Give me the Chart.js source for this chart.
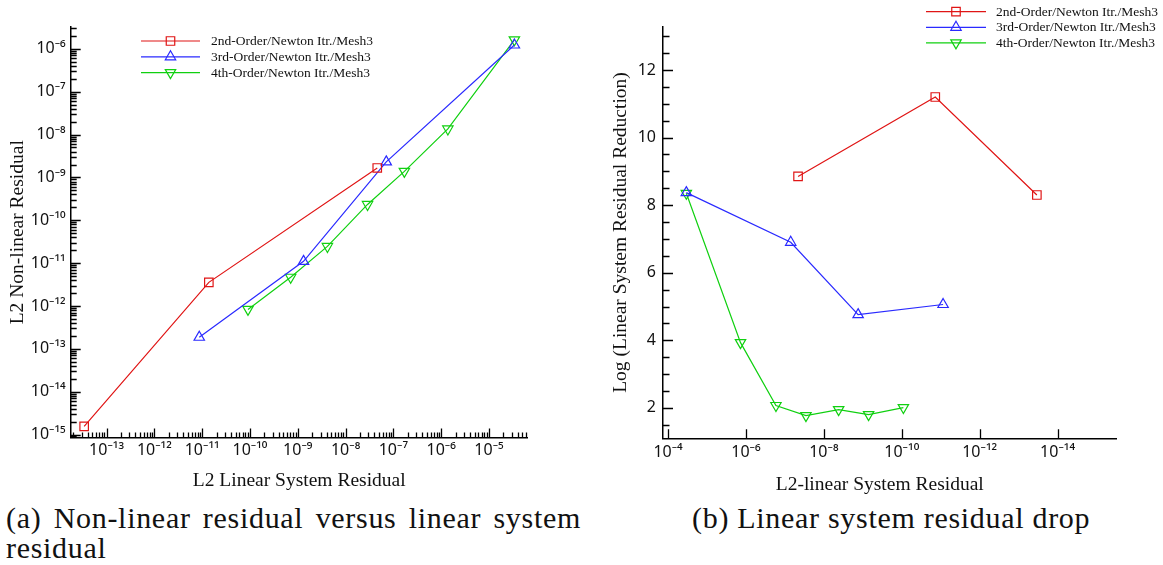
<!DOCTYPE html>
<html>
<head>
<meta charset="utf-8">
<script src="https://cdn.jsdelivr.net/npm/chart.js@4.4.1/dist/chart.umd.min.js"></script>
<style>
  html, body { margin: 0; padding: 0; background: #fff; }
  body { width: 1163px; height: 565px; position: relative; overflow: hidden; }
  #panelA { position: absolute; left: 0; top: 0; width: 580px; height: 500px; }
  #panelB { position: absolute; left: 600px; top: 0; width: 563px; height: 500px; }
  .caption {
    position: absolute;
    font-family: "Liberation Serif", "DejaVu Serif", serif;
    font-size: 30px;
    letter-spacing: 0.7px;
    line-height: 30px;
    color: #111;
  }
  #captionA { left: 6px; top: 503px; width: 575px; text-align: justify; }
  #captionB { left: 692px; top: 503px; }
</style>
</head>
<body>
<div id="panelA"><canvas id="chartA" width="580" height="500"></canvas></div>
<div id="panelB"><canvas id="chartB" width="563" height="500"></canvas></div>
<div class="caption" id="captionA">(a) Non-linear residual versus linear system residual</div>
<div class="caption" id="captionB">(b) Linear system residual drop</div>

<script>
// Series labels
const seriesNames = [
  '2nd-Order/Newton Itr./Mesh3',
  '3rd-Order/Newton Itr./Mesh3',
  '4th-Order/Newton Itr./Mesh3'
];

// L2 linear-system residual reached at each Newton iteration
const linRes2nd = [4.6e-8, 1.38e-11, 3.4e-14];
const linRes3rd = [3.4e-5, 7.1e-8, 1.32e-9, 8.7e-12];
const linRes4th = [3.4e-5, 1.38e-6, 1.7e-7, 2.88e-8, 4.17e-9, 7.1e-10, 9.1e-11];

// L2 non-linear residual at the same iterations
const nonlinRes2nd = [1.66e-9, 3.55e-12, 1.55e-15];
const nonlinRes3rd = [1.23e-6, 2.3e-9, 1.1e-11, 1.86e-13];
const nonlinRes4th = [1.62e-6, 1.35e-8, 1.38e-9, 2.34e-10, 2.45e-11, 4.68e-12, 8.3e-13];

// log10 of the linear-system residual reduction at the same iterations
const reduction2nd = [8.85, 11.2, 8.3];
const reduction3rd = [8.37, 6.9, 4.76, 5.06];
const reduction4th = [8.35, 3.93, 2.07, 1.77, 1.95, 1.8, 2.01];

// Labelled ticks
const linTicksA = [1e-13, 1e-12, 1e-11, 1e-10, 1e-9, 1e-8, 1e-7, 1e-6, 1e-5];
const nonlinTicks = [1e-15, 1e-14, 1e-13, 1e-12, 1e-11, 1e-10, 1e-9, 1e-8, 1e-7, 1e-6];
const linTicksB = [1e-4, 1e-6, 1e-8, 1e-10, 1e-12, 1e-14];
const reductionTicks = [2, 4, 6, 8, 10, 12];

// Axis extents
const linRangeA = [Math.pow(10, -13.75), Math.pow(10, -4.19)];
const nonlinRange = [Math.pow(10, -15.07), Math.pow(10, -5.49)];
const linRangeB = [Math.pow(10, -15.5), Math.pow(10, -3.87)];
const reductionRange = [1.1, 13.28];

const RED = '#e01515';
const BLUE = '#2a2aff';
const GREEN = '#10d010';

const SUP = { '-': '\u207B', '0': '\u2070', '1': '\u00B9', '2': '\u00B2', '3': '\u00B3',
  '4': '\u2074', '5': '\u2075', '6': '\u2076', '7': '\u2077', '8': '\u2078', '9': '\u2079' };
function decadeLabel(v) {
  const e = Math.round(Math.log10(v));
  return '10' + String(e).split('').map(c => SUP[c]).join('');
}

// Decade (long) and sub-decade (short) tick marks for a log axis
function logMarks(range) {
  const out = [];
  const lo = Math.floor(Math.log10(range[0]));
  const hi = Math.ceil(Math.log10(range[1]));
  for (let e = lo; e <= hi; e++) {
    for (let m = 1; m <= 9; m++) {
      const v = m * Math.pow(10, e);
      if (v >= range[0] && v <= range[1]) out.push({ v, major: m === 1 });
    }
  }
  return out;
}

// Inward-pointing tick marks drawn along each axis line
const axisMarks = {
  id: 'axisMarks',
  afterDraw(chart, _args, opts) {
    const { ctx } = chart;
    ctx.save();
    ctx.strokeStyle = '#000';
    ctx.lineWidth = 1.3;
    ctx.beginPath();
    (opts.axes || []).forEach(ax => {
      const s = chart.scales[ax.id];
      ax.marks.forEach(mk => {
        const p = Math.round(s.getPixelForValue(mk.v)) + 0.5;
        const len = mk.major ? ax.major : ax.minor;
        if (s.isHorizontal()) {
          if (p < s.left - 1 || p > s.right + 1) return;
          ctx.moveTo(p, s.top);
          ctx.lineTo(p, s.top - len);
        } else {
          if (p < s.top - 1 || p > s.bottom + 1) return;
          ctx.moveTo(s.right, p);
          ctx.lineTo(s.right + len, p);
        }
      });
    });
    ctx.stroke();
    ctx.restore();
  }
};

// Legend rows (line sample + marker + label) placed inside the plot
const inlineLegend = {
  id: 'inlineLegend',
  afterDraw(chart, _args, opts) {
    const { ctx } = chart;
    ctx.save();
    chart.data.datasets.forEach((ds, i) => {
      const y = opts.top + i * opts.rowGap;
      ctx.strokeStyle = ds.borderColor;
      ctx.lineWidth = ds.borderWidth;
      ctx.beginPath();
      ctx.moveTo(opts.lineStart, y);
      ctx.lineTo(opts.lineEnd, y);
      ctx.stroke();
      ctx.fillStyle = 'rgba(0,0,0,0)';
      ctx.lineWidth = ds.pointBorderWidth;
      Chart.helpers.drawPoint(ctx, {
        pointStyle: ds.pointStyle,
        rotation: ds.pointRotation || 0,
        radius: opts.markerRadius,
        borderWidth: ds.pointBorderWidth
      }, (opts.lineStart + opts.lineEnd) / 2, y);
      ctx.font = opts.font;
      ctx.textBaseline = 'middle';
      ctx.textAlign = 'left';
      ctx.fillStyle = '#111';
      ctx.fillText(ds.label, opts.textX, y + 0.5);
    });
    ctx.restore();
  }
};

function series(label, xs, ys, color, style, rotation) {
  return {
    label,
    data: xs.map((x, i) => ({ x, y: ys[i] })),
    showLine: true,
    borderColor: color,
    borderWidth: 1.2,
    pointStyle: style,
    pointRotation: rotation,
    pointRadius: 6,
    pointBorderWidth: 1.2,
    pointBorderColor: color,
    pointBackgroundColor: 'rgba(0,0,0,0)'
  };
}

const tickFont = { family: '"Noto Sans", "DejaVu Sans", sans-serif', size: 16 };
const titleFont = { family: '"Liberation Serif", "Times New Roman", serif', size: 19.5 };
const noGrid = { display: false, drawTicks: false, drawOnChartArea: false };
const axisBorder = { display: true, color: '#000', width: 1.5 };

function fixedTicks(values) {
  return scale => { scale.ticks = values.map(v => ({ value: v })); };
}

// (a) non-linear residual versus linear-system residual
new Chart(document.getElementById('chartA'), {
  type: 'scatter',
  data: {
    datasets: [
      series(seriesNames[0], linRes2nd, nonlinRes2nd, RED, 'rect', 0),
      series(seriesNames[1], linRes3rd, nonlinRes3rd, BLUE, 'triangle', 0),
      series(seriesNames[2], linRes4th, nonlinRes4th, GREEN, 'triangle', 180)
    ]
  },
  options: {
    responsive: false,
    animation: false,
    layout: { padding: { top: 27, right: 52.3, bottom: 2.5, left: 0 } },
    plugins: {
      legend: { display: false },
      tooltip: { enabled: false },
      axisMarks: {
        axes: [
          { id: 'x', marks: logMarks(linRangeA), major: 9, minor: 5 },
          { id: 'y', marks: logMarks(nonlinRange), major: 10, minor: 6 }
        ]
      },
      inlineLegend: {
        top: 41, rowGap: 15.8, lineStart: 141, lineEnd: 200, textX: 211,
        markerRadius: 6, font: '13.5px "Liberation Serif", serif'
      }
    },
    scales: {
      x: {
        type: 'logarithmic',
        min: linRangeA[0], max: linRangeA[1],
        afterBuildTicks: fixedTicks(linTicksA),
        afterFit: s => { s.height = 60; },
        grid: noGrid, border: axisBorder,
        ticks: { callback: v => decadeLabel(v), autoSkip: false, maxRotation: 0, minRotation: 0,
                 padding: 3, color: '#111', font: tickFont },
        title: { display: true, text: 'L2 Linear System Residual', color: '#111', font: titleFont,
                 padding: { top: 0, bottom: 4.8 } }
      },
      y: {
        type: 'logarithmic',
        min: nonlinRange[0], max: nonlinRange[1],
        afterBuildTicks: fixedTicks(nonlinTicks),
        afterFit: s => { s.width = 70.7; },
        grid: noGrid, border: axisBorder,
        ticks: { callback: v => decadeLabel(v), autoSkip: false, padding: 5, color: '#111', font: tickFont },
        title: { display: true, text: 'L2 Non-linear Residual', color: '#111', font: titleFont,
                 padding: { top: 6.3, bottom: 0 } }
      }
    }
  },
  plugins: [axisMarks, inlineLegend]
});

// (b) linear-system residual drop per Newton iteration
new Chart(document.getElementById('chartB'), {
  type: 'scatter',
  data: {
    datasets: [
      series(seriesNames[0], linRes2nd, reduction2nd, RED, 'rect', 0),
      series(seriesNames[1], linRes3rd, reduction3rd, BLUE, 'triangle', 0),
      series(seriesNames[2], linRes4th, reduction4th, GREEN, 'triangle', 180)
    ]
  },
  options: {
    responsive: false,
    animation: false,
    layout: { padding: { top: 26.7, right: 47, bottom: 1.7, left: 0 } },
    plugins: {
      legend: { display: false },
      tooltip: { enabled: false },
      axisMarks: {
        axes: [
          { id: 'x', marks: linTicksB.map(v => ({ v, major: true })), major: 9, minor: 5 },
          { id: 'y', marks: Array.from({ length: 24 }, (_, i) => 1.5 + i * 0.5)
              .filter(v => v <= reductionRange[1])
              .map(v => ({ v, major: v % 2 === 0 })), major: 10, minor: 6.5 }
        ]
      },
      inlineLegend: {
        top: 11.7, rowGap: 15.6, lineStart: 326, lineEnd: 386, textX: 396,
        markerRadius: 6, font: '13.5px "Liberation Serif", serif'
      }
    },
    scales: {
      x: {
        type: 'logarithmic',
        reverse: true,
        min: linRangeB[0], max: linRangeB[1],
        afterBuildTicks: fixedTicks(linTicksB),
        afterFit: s => { s.height = 60; },
        grid: noGrid, border: axisBorder,
        ticks: { callback: v => decadeLabel(v), autoSkip: false, maxRotation: 0, minRotation: 0,
                 padding: 5, color: '#111', font: tickFont },
        title: { display: true, text: 'L2-linear System Residual\u2002\u2002', color: '#111', font: titleFont,
                 padding: { top: 0, bottom: 1.6 } }
      },
      y: {
        type: 'linear',
        min: reductionRange[0], max: reductionRange[1],
        afterBuildTicks: fixedTicks(reductionTicks),
        afterFit: s => { s.width = 63; },
        grid: noGrid, border: axisBorder,
        ticks: { autoSkip: false, padding: 7, color: '#111', font: tickFont },
        title: { display: true, text: 'Log (Linear System Residual Reduction)', color: '#111', font: titleFont,
                 padding: { top: 9.3, bottom: 0 } }
      }
    }
  },
  plugins: [axisMarks, inlineLegend]
});
</script>
</body>
</html>
